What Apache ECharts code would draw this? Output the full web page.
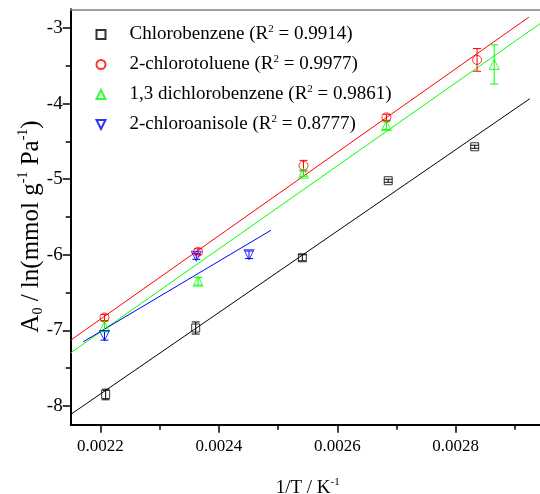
<!DOCTYPE html>
<html>
<head>
<meta charset="utf-8">
<script src="https://cdn.jsdelivr.net/npm/echarts@6/dist/echarts.min.js"></script>
<style>
  html, body { margin: 0; padding: 0; background: #fff; }
  #chart { width: 540px; height: 494px; }
</style>
</head>
<body>
<div id="chart"></div>
<script>
// Adsorbates and the R^2 of each linear fit
const seriesNames = ['Chlorobenzene', '2-chlorotoluene', '1,3 dichlorobenzene', '2-chloroanisole'];
const rSquared = ['0.9914', '0.9977', '0.9861', '0.8777'];

// Measured points: 1/T (K^-1), A0 / ln(mmol g^-1 Pa^-1), error half-width
const chlorobenzeneX   = [0.002209, 0.002361, 0.002541, 0.002686, 0.002832];
const chlorobenzeneY   = [-7.85, -6.97, -6.04, -5.02, -4.57];
const chlorobenzeneErr = [0.07, 0.08, 0.04, 0.02, 0.02];

const chlorotolueneX   = [0.002207, 0.002365, 0.002543, 0.002683, 0.002836];
const chlorotolueneY   = [-6.83, -5.96, -4.82, -4.18, -3.42];
const chlorotolueneErr = [0.04, 0.04, 0.07, 0.04, 0.15];

const dichlorobenzeneX   = [0.002207, 0.002365, 0.002543, 0.002683, 0.002865];
const dichlorobenzeneY   = [-6.95, -6.35, -4.92, -4.29, -3.48];
const dichlorobenzeneErr = [0.07, 0.05, 0.04, 0.05, 0.26];

const chloroanisoleX   = [0.002207, 0.002362, 0.002451];
const chloroanisoleY   = [-7.07, -6.02, -6.00];
const chloroanisoleErr = [0.06, 0.04, 0.05];

// Fitted straight lines (end points)
const fitChlorobenzeneX   = [0.00215, 0.002925];
const fitChlorobenzeneY   = [-8.114, -3.934];
const fitChlorotolueneX   = [0.00215, 0.0029235];
const fitChlorotolueneY   = [-7.131, -2.854];
const fitDichlorobenzeneX = [0.00215, 0.00295];
const fitDichlorobenzeneY = [-7.299, -2.898];
const fitChloroanisoleX   = [0.002171, 0.002488];
const fitChloroanisoleY   = [-7.153, -5.676];

// Axis ranges and ticks
const xRange = [0.00215, 0.00295];
const yRange = [-8.25, -2.75];
const xMajorTicks = [0.0022, 0.0024, 0.0026, 0.0028];
const xMinorTicks = [0.0023, 0.0025, 0.0027, 0.0029];
const yMajorTicks = [-8, -7, -6, -5, -4, -3];
const yMinorTicks = [-7.5, -6.5, -5.5, -4.5, -3.5];

const FONT = "'Liberation Serif', 'Times New Roman', serif";
const colors = ['#000000', '#ff0000', '#00ff00', '#0000ff'];
const symbols = ['rect', 'circle', 'triangle', 'triangle'];
const symbolRotations = [0, 0, 0, 180];
const symbolSizes = [8, 9, 10, 10];
const legendIcons = ['rect', 'circle', 'triangle', 'path://M0,0L10,0L5,10Z'];

const pointSets = [
  [chlorobenzeneX, chlorobenzeneY, chlorobenzeneErr],
  [chlorotolueneX, chlorotolueneY, chlorotolueneErr],
  [dichlorobenzeneX, dichlorobenzeneY, dichlorobenzeneErr],
  [chloroanisoleX, chloroanisoleY, chloroanisoleErr]
];
const fitSets = [
  [fitChlorobenzeneX, fitChlorobenzeneY],
  [fitChlorotolueneX, fitChlorotolueneY],
  [fitDichlorobenzeneX, fitDichlorobenzeneY],
  [fitChloroanisoleX, fitChloroanisoleY]
];

const zip = (xs, ys) => xs.map((x, i) => [x, ys[i]]);

// rich text styles: normal text, superscript, subscript
function richStyles(size, smallSize, lineHeight) {
  return {
    n: { fontFamily: FONT, fontSize: size, color: '#000', lineHeight: lineHeight, verticalAlign: 'middle' },
    sup: { fontFamily: FONT, fontSize: smallSize, color: '#000', lineHeight: smallSize, verticalAlign: 'top' },
    sub: { fontFamily: FONT, fontSize: smallSize, color: '#000', lineHeight: smallSize, verticalAlign: 'bottom' },
    gap: { width: 19 }
  };
}
const richText = richStyles(19, 11, 22);
const richYName = richStyles(25, 14, 29);

const series = [];

// fit lines
fitSets.forEach(([xs, ys], i) => {
  series.push({
    name: seriesNames[i] + ' fit',
    type: 'line',
    data: zip(xs, ys),
    symbol: 'none',
    silent: true,
    lineStyle: { color: colors[i], width: 1 },
    z: 2
  });
});

// error bars
pointSets.forEach(([xs, ys, es], i) => {
  series.push({
    name: seriesNames[i] + ' error',
    type: 'custom',
    silent: true,
    data: xs.map((x, k) => [x, ys[k] - es[k], ys[k] + es[k]]),
    encode: { x: 0, y: [1, 2] },
    z: 3,
    renderItem: function (params, api) {
      const x = api.value(0);
      const lo = api.coord([x, api.value(1)]);
      const hi = api.coord([x, api.value(2)]);
      const cap = 4;
      const style = { stroke: colors[i], lineWidth: 1, fill: null };
      return {
        type: 'group',
        children: [
          { type: 'line', shape: { x1: lo[0], y1: lo[1], x2: hi[0], y2: hi[1] }, style: style },
          { type: 'line', shape: { x1: lo[0] - cap, y1: lo[1], x2: lo[0] + cap, y2: lo[1] }, style: style },
          { type: 'line', shape: { x1: hi[0] - cap, y1: hi[1], x2: hi[0] + cap, y2: hi[1] }, style: style }
        ]
      };
    }
  });
});

// measured points
pointSets.forEach(([xs, ys], i) => {
  series.push({
    name: seriesNames[i],
    type: 'scatter',
    data: zip(xs, ys),
    symbol: symbols[i],
    symbolSize: symbolSizes[i],
    symbolRotate: symbolRotations[i],
    itemStyle: { color: 'rgba(255,255,255,0)', borderColor: colors[i], borderWidth: 1 },
    z: 4
  });
});

const hiddenAxisParts = {
  axisLabel: { show: false },
  splitLine: { show: false }
};

const option = {
  animation: false,
  backgroundColor: '#fff',
  grid: { left: 70.7, top: 9.3, right: -4.6, bottom: 69.3, outerBoundsMode: 'none', containLabel: false },
  legend: {
    orient: 'vertical',
    left: 90.5,
    top: 18.5,
    padding: 5,
    itemWidth: 9,
    itemHeight: 9,
    itemGap: 9.5,
    data: seriesNames.map((name, i) => ({ name: name, icon: legendIcons[i] })),
    textStyle: { fontFamily: FONT, fontSize: 19, color: '#000', rich: richText },
    formatter: function (name) {
      const i = seriesNames.indexOf(name);
      return '{gap|}{n|' + name + ' (R}{sup|2}{n| = ' + rSquared[i] + ')}';
    }
  },
  xAxis: [
    {
      type: 'value', min: xRange[0], max: xRange[1], position: 'bottom',
      axisLine: { onZero: false, lineStyle: { color: '#000', width: 2 } },
      axisTick: { customValues: xMajorTicks, length: 8, lineStyle: { color: '#000', width: 1.5 } },
      axisLabel: {
        customValues: xMajorTicks, margin: 13, fontFamily: FONT, fontSize: 17, color: '#000',
        formatter: v => v.toFixed(4)
      },
      splitLine: { show: false },
      name: '{n|1/T / K}{sup|-1}',
      nameLocation: 'middle',
      nameGap: 52,
      nameMoveOverlap: false,
      nameTextStyle: { rich: richText }
    },
    Object.assign({
      type: 'value', min: xRange[0], max: xRange[1], position: 'bottom',
      axisLine: { show: false, onZero: false },
      axisTick: { customValues: xMinorTicks, length: 5, lineStyle: { color: '#000', width: 1.5 } }
    }, hiddenAxisParts),
    Object.assign({
      type: 'value', min: xRange[0], max: xRange[1], position: 'top',
      axisLine: { onZero: false, lineStyle: { color: '#808080', width: 1.5 } },
      axisTick: { show: false }
    }, hiddenAxisParts)
  ],
  yAxis: [
    {
      type: 'value', min: yRange[0], max: yRange[1], position: 'left',
      axisLine: { onZero: false, lineStyle: { color: '#000', width: 2 } },
      axisTick: { customValues: yMajorTicks, length: 8, lineStyle: { color: '#000', width: 1.5 } },
      axisLabel: { customValues: yMajorTicks, margin: 8, fontFamily: FONT, fontSize: 19, color: '#000' },
      splitLine: { show: false },
      name: '{n|A}{sub|0}{n| / ln(mmol g}{sup|-1}{n| Pa}{sup|-1}{n|)}',
      nameLocation: 'middle',
      nameGap: 25,
      nameMoveOverlap: false,
      nameTextStyle: { rich: richYName, padding: [0, 19, 0, 0] }
    },
    Object.assign({
      type: 'value', min: yRange[0], max: yRange[1], position: 'left',
      axisLine: { show: false, onZero: false },
      axisTick: { customValues: yMinorTicks, length: 5, lineStyle: { color: '#000', width: 1.5 } }
    }, hiddenAxisParts)
  ],
  series: series
};

const chart = echarts.init(document.getElementById('chart'), null, { renderer: 'canvas' });
chart.setOption(option);
</script>
</body>
</html>
